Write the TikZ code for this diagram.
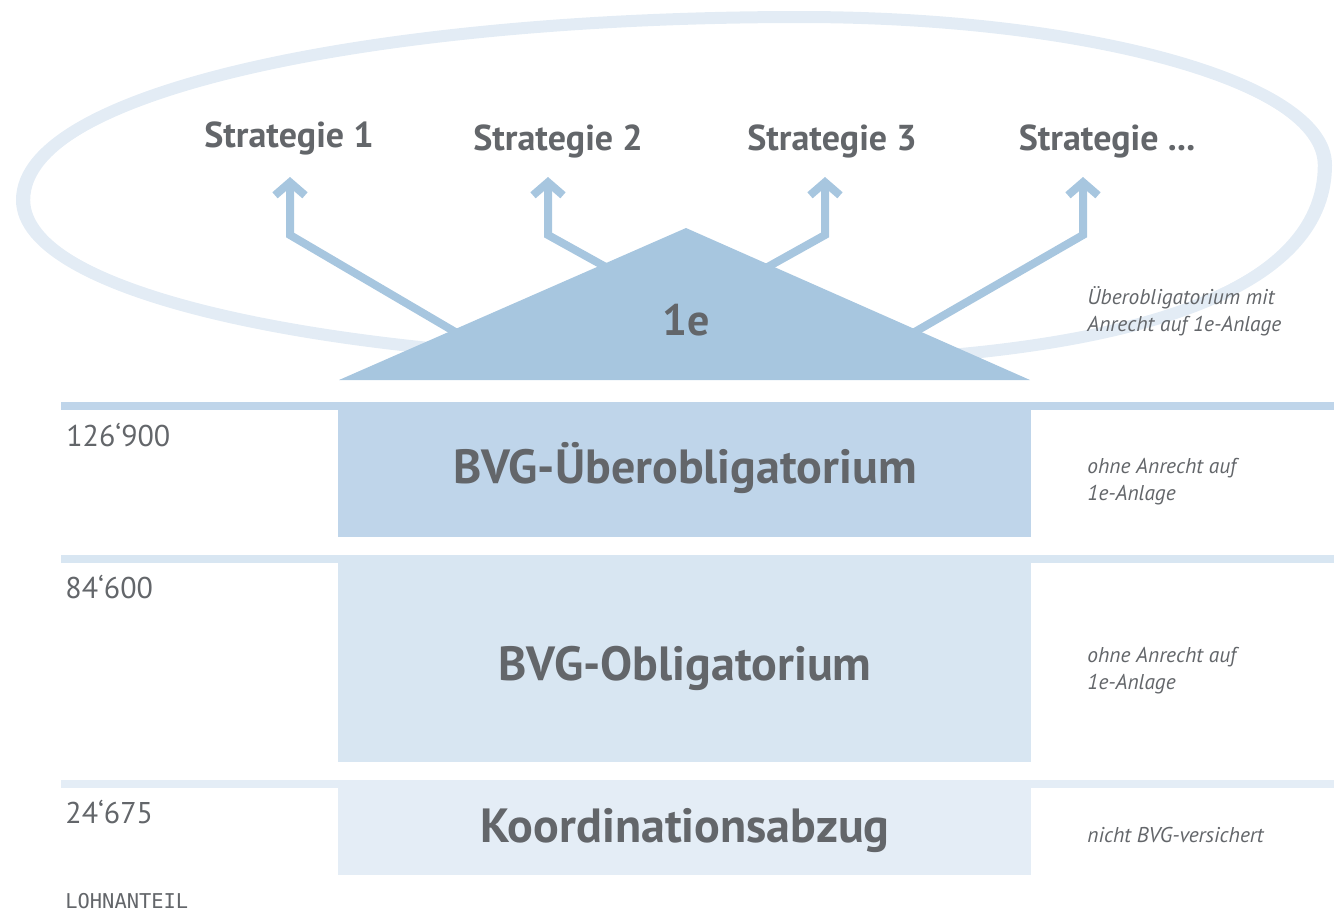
\documentclass[tikz,border=0pt]{standalone}
\usepackage{fontspec}
\setmainfont{PT Sans}
\setmonofont{DejaVu Sans Mono}
\usetikzlibrary{arrows.meta}

\definecolor{txtgray}{HTML}{63666A}
\definecolor{ringblue}{HTML}{E3ECF5}
\definecolor{topblue}{HTML}{A7C6DF}
\definecolor{ueberblue}{HTML}{BFD5EA}
\definecolor{obliblue}{HTML}{D8E6F2}
\definecolor{koordblue}{HTML}{E4EDF6}

\begin{document}
\begin{tikzpicture}[x=0.5pt,y=-0.5pt,
		strat/.style={anchor=base,text=txtgray,font=\fontsize{18}{22}\selectfont\bfseries},
		bandlbl/.style={anchor=base,text=txtgray,font=\fontsize{24}{28}\selectfont\bfseries},
		amount/.style={anchor=base west,inner sep=0pt,text=txtgray,font=\fontsize{15}{18}\selectfont},
		note/.style={anchor=base west,inner sep=0pt,align=left,text=txtgray,font=\fontsize{10.7}{13.5}\selectfont\itshape},
		stratarrow/.style={draw=topblue,line width=4pt,-{Straight Barb[length=6.5pt,width=15pt]}}]
	\useasboundingbox (0,0) rectangle (1334,911);

	% ring round the strategies
	\draw[ringblue,line width=6pt] (22,200) .. controls (22,92) and (371,17) .. (800,17)
		.. controls (1090,17) and (1326,83) .. (1326,165)
		.. controls (1326,293) and (1124,363) .. (750,363)
		.. controls (313,363) and (22,290) .. cycle;
	\draw[ringblue,line width=3pt,scale around={0.992:(674,190)}] (22,200) .. controls (22,92) and (371,17) .. (800,17)
		.. controls (1090,17) and (1326,83) .. (1326,165)
		.. controls (1326,293) and (1124,363) .. (750,363)
		.. controls (313,363) and (22,290) .. cycle;

	% arrows out of the 1e roof
	\coordinate (b1) at (520,370); \coordinate (e1) at (290,235); \coordinate (t1) at (290,177);
	\coordinate (b2) at (640,286); \coordinate (e2) at (548,235); \coordinate (t2) at (548,177);
	\coordinate (b3) at (730,288); \coordinate (e3) at (825,235); \coordinate (t3) at (825,177);
	\coordinate (b4) at (880,352); \coordinate (e4) at (1083,235); \coordinate (t4) at (1083,177);
	\draw[stratarrow] (b1) -- (e1) -- (t1);
	\draw[stratarrow] (b2) -- (e2) -- (t2);
	\draw[stratarrow] (b3) -- (e3) -- (t3);
	\draw[stratarrow] (b4) -- (e4) -- (t4);

	\node[strat] (s1) at (289,147) {Strategie 1};
	\node[strat] (s2) at (558,150) {Strategie 2};
	\node[strat] (s3) at (832,150) {Strategie 3};
	\node[strat] (s4) at (1107,150) {Strategie ...};

	% roof
	\fill[topblue] (339,380) -- (686,228) -- (1030,380) -- cycle;
	\node[anchor=base,text=txtgray,font=\fontsize{22}{26}\selectfont\bfseries] (eins) at (686,335) {1e};

	% levels
	\fill[ueberblue] (61,402) rectangle (1334,410);
	\fill[ueberblue] (338,402) rectangle (1031,537);
	\fill[obliblue] (61,555) rectangle (1334,563);
	\fill[obliblue] (338,555) rectangle (1031,762);
	\fill[koordblue] (61,780) rectangle (1334,788);
	\fill[koordblue] (338,780) rectangle (1031,875);

	\node[bandlbl] (ueber) at (685,483) {BVG-Überobligatorium};
	\node[bandlbl] (obli) at (685,680) {BVG-Obligatorium};
	\node[bandlbl] (koord) at (685,842) {Koordinationsabzug};

	\node[amount] (a1) at (66,446) {126‘900};
	\node[amount] (a2) at (65,598) {84‘600};
	\node[amount] (a3) at (65,823) {24‘675};
	\node[anchor=base west,inner sep=0pt,text=txtgray,font=\fontsize{10.2}{12}\ttfamily] (lohn) at (65,908) {LOHNANTEIL};

	\node[note] (n1) at (1087,331) {Überobligatorium mit\\Anrecht auf 1e-Anlage};
	\node[note] (n2) at (1087,500) {ohne Anrecht auf\\1e-Anlage};
	\node[note] (n3) at (1087,689) {ohne Anrecht auf\\1e-Anlage};
	\node[note] (n4) at (1087,842) {nicht BVG-versichert};
\end{tikzpicture}
\end{document}
